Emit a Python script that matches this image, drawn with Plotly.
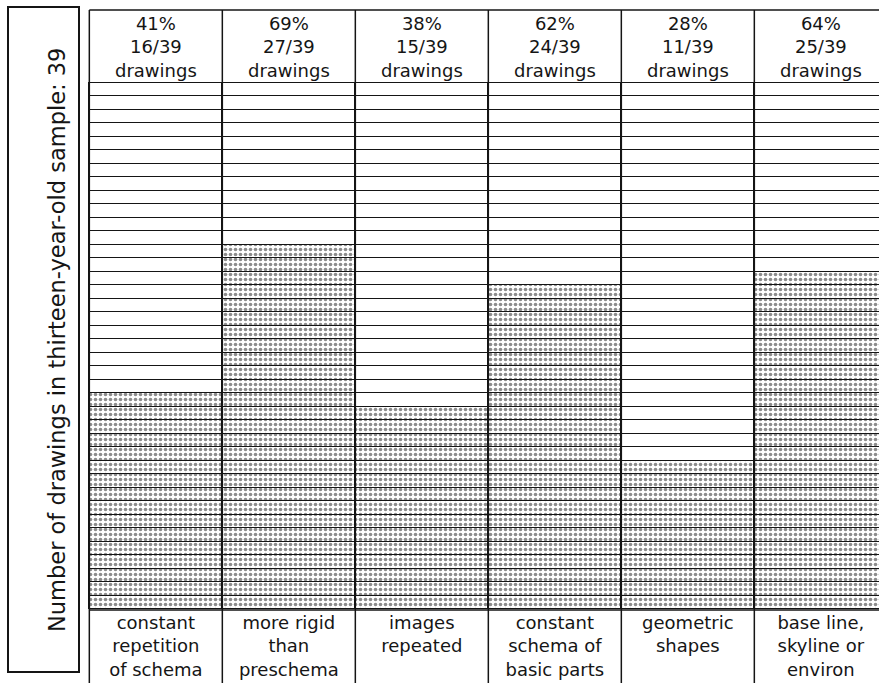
import plotly.graph_objects as go

SAMPLE_SIZE = 39
CATEGORIES = [
    "constant<br>repetition<br>of schema",
    "more rigid<br>than<br>preschema",
    "images<br>repeated",
    "constant<br>schema of<br>basic parts",
    "geometric<br>shapes",
    "base line,<br>skyline or<br>environ",
]
COUNTS = [16, 27, 15, 24, 11, 25]
Y_LABEL = "Number of drawings in thirteen-year-old sample: 39"

INK = "#151515"
FONT = "DejaVu Sans"

W, H = 879, 683
M_L, M_R, M_T, M_B = 88, 0, 82, 73
PLOT_H = H - M_T - M_B


def paper_y(py):
    # pixel row -> paper coordinate of the plot area
    return (H - M_B - py) / PLOT_H


def paper_x(px):
    return (px - M_L) / (W - M_L - M_R)


fig = go.Figure()
xs = list(range(len(CATEGORIES)))

# one stacked unit bar per drawing slot, stippled when the feature is present
for k in range(SAMPLE_SIZE):
    shapes = ["." if k < c else "" for c in COUNTS]
    fig.add_trace(go.Bar(
        x=xs, y=[1] * len(xs), width=1,
        marker=dict(
            color="white",
            line=dict(color=INK, width=1.5),
            pattern=dict(shape=shapes, fgcolor="#1a1a1a", bgcolor="white", size=5, solidity=0.42),
        ),
        showlegend=False, hoverinfo="skip",
    ))

n = len(CATEGORIES)
x_left = -0.5
x_right = n - 0.5
top_y = paper_y(10)
bot_y = paper_y(H + 2)

shapes = []
for i in range(n + 1):
    shapes.append(dict(type="line", xref="x", yref="paper", x0=x_left + i, x1=x_left + i,
                       y0=bot_y, y1=top_y, line=dict(color=INK, width=1.5)))
shapes.append(dict(type="line", xref="x", yref="paper", x0=x_left, x1=x_right,
                   y0=top_y, y1=top_y, line=dict(color=INK, width=1.5)))
shapes.append(dict(type="line", xref="x", yref="paper", x0=x_left, x1=x_right,
                   y0=paper_y(H - M_B), y1=paper_y(H - M_B), line=dict(color=INK, width=1.5)))
# boxed y label
shapes.append(dict(type="rect", xref="paper", yref="paper",
                   x0=paper_x(8), x1=paper_x(79), y0=paper_y(672), y1=paper_y(7),
                   line=dict(color=INK, width=2), fillcolor="rgba(0,0,0,0)"))

annotations = []
for i, c in enumerate(COUNTS):
    pct = round(100 * c / SAMPLE_SIZE)
    annotations.append(dict(
        x=i, y=paper_y(46.5), xref="x", yref="paper", yanchor="middle",
        text=f"{pct}%<br>{c}/{SAMPLE_SIZE}<br>drawings", showarrow=False,
        font=dict(family=FONT, size=18, color=INK),
    ))
annotations.append(dict(
    x=paper_x(42), y=paper_y(340), xref="paper", yref="paper", textangle=-90,
    text=Y_LABEL, showarrow=False, font=dict(family=FONT, size=22.5, color=INK),
))

fig.update_layout(
    width=W, height=H,
    margin=dict(l=M_L, r=M_R, t=M_T, b=M_B),
    barmode="stack", bargap=0,
    plot_bgcolor="white", paper_bgcolor="white",
    shapes=shapes, annotations=annotations,
    font=dict(family=FONT, size=18, color=INK),
)
fig.update_xaxes(
    range=[-0.51, -0.51 + (W - M_L - M_R) / 133.0],
    tickvals=xs, ticktext=CATEGORIES, ticks="", showgrid=False, zeroline=False,
    showline=False, tickfont=dict(family=FONT, size=18, color=INK),
)
fig.update_yaxes(range=[-0.04, SAMPLE_SIZE + 0.04], showticklabels=False, showgrid=False,
                 zeroline=False, showline=False)

# the page's default body margin would shift the chart by 8px
fig.write_html("out.html", config={"displayModeBar": False},
               post_script="document.body.style.margin='0';")
